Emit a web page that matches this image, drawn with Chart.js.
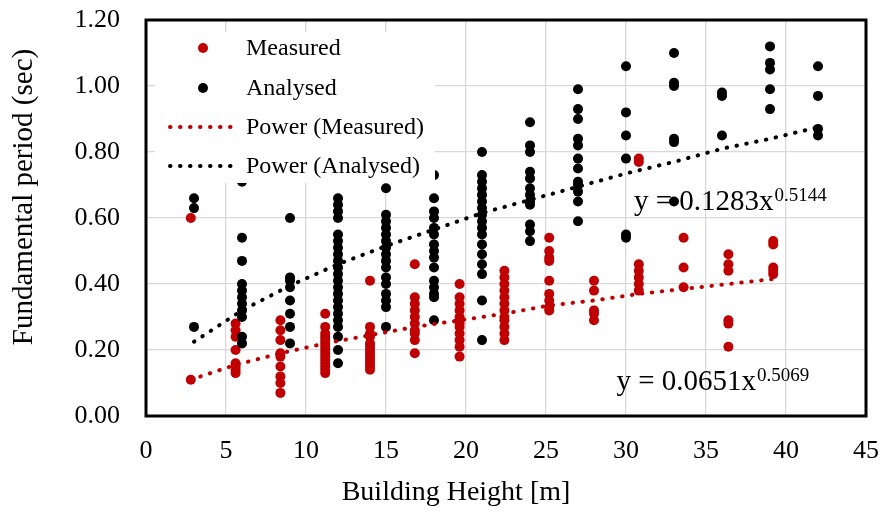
<!DOCTYPE html>
<html>
<head>
<meta charset="utf-8">
<script src="https://cdn.jsdelivr.net/npm/chart.js@4.4.1/dist/chart.umd.min.js"></script>
<style>
  body { margin: 0; background: #fff; }
  #wrap { width: 882px; height: 513px; }
</style>
</head>
<body>
<div id="wrap"><canvas id="periodChart" width="882" height="513"></canvas></div>
<script>
// building heights (m) and periods (sec)
const measuredHeights = [2.8, 5.6, 8.4, 11.2, 14, 16.8, 19.6, 22.4, 25.2, 28, 30.8, 33.6, 36.4, 39.2];
const measuredPeriods = [
    [0.60, 0.11],
    [0.28, 0.26, 0.24, 0.20, 0.16, 0.15, 0.14, 0.13],
    [0.29, 0.26, 0.23, 0.19, 0.18, 0.15, 0.12, 0.10, 0.07],
    [0.31, 0.27, 0.25, 0.24, 0.23, 0.22, 0.21, 0.20, 0.19, 0.18, 0.17, 0.16, 0.15, 0.14, 0.13],
    [0.41, 0.27, 0.25, 0.24, 0.22, 0.21, 0.20, 0.19, 0.18, 0.17, 0.16, 0.15, 0.14],
    [0.46, 0.36, 0.34, 0.32, 0.30, 0.28, 0.26, 0.25, 0.23, 0.19],
    [0.40, 0.36, 0.34, 0.32, 0.30, 0.29, 0.28, 0.27, 0.25, 0.23, 0.21, 0.18],
    [0.44, 0.42, 0.40, 0.38, 0.36, 0.34, 0.32, 0.30, 0.29, 0.27, 0.25, 0.23],
    [0.54, 0.50, 0.48, 0.47, 0.41, 0.37, 0.35, 0.33, 0.32],
    [0.41, 0.38, 0.32, 0.31, 0.29],
    [0.78, 0.77, 0.46, 0.44, 0.42, 0.40, 0.38],
    [0.54, 0.45, 0.39],
    [0.49, 0.46, 0.44, 0.29, 0.28, 0.21],
    [0.53, 0.52, 0.45, 0.44, 0.43]
];
const analysedHeights = [3, 6, 9, 12, 15, 18, 21, 24, 27, 30, 33, 36, 39, 42];
const analysedPeriods = [
    [0.66, 0.63, 0.27],
    [0.71, 0.54, 0.47, 0.40, 0.38, 0.36, 0.34, 0.32, 0.30, 0.24, 0.22],
    [0.60, 0.42, 0.41, 0.39, 0.35, 0.31, 0.27, 0.22],
    [0.66, 0.64, 0.62, 0.60, 0.55, 0.53, 0.51, 0.49, 0.47, 0.45, 0.43, 0.41, 0.39, 0.37, 0.35, 0.33, 0.31, 0.29, 0.27, 0.24, 0.20, 0.16],
    [0.69, 0.61, 0.59, 0.57, 0.55, 0.53, 0.51, 0.49, 0.47, 0.45, 0.42, 0.40, 0.37, 0.35, 0.33, 0.27],
    [0.73, 0.66, 0.62, 0.60, 0.57, 0.55, 0.52, 0.50, 0.48, 0.45, 0.41, 0.39, 0.37, 0.36, 0.29],
    [0.80, 0.73, 0.71, 0.69, 0.67, 0.65, 0.63, 0.61, 0.59, 0.57, 0.55, 0.52, 0.49, 0.46, 0.43, 0.35, 0.23],
    [0.89, 0.82, 0.80, 0.74, 0.72, 0.69, 0.67, 0.65, 0.64, 0.58, 0.56, 0.53],
    [0.99, 0.93, 0.90, 0.84, 0.82, 0.78, 0.75, 0.71, 0.70, 0.68, 0.65, 0.59],
    [1.06, 0.92, 0.85, 0.78, 0.55, 0.54],
    [1.10, 1.01, 1.00, 0.84, 0.83, 0.65],
    [0.98, 0.97, 0.85],
    [1.12, 1.07, 1.05, 0.99, 0.93],
    [1.06, 0.97, 0.87, 0.85]
];
// power trend lines, read at the same heights
const measuredTrend = [0.11, 0.155, 0.19, 0.22, 0.245, 0.27, 0.29, 0.31, 0.335, 0.35, 0.37, 0.385, 0.40, 0.415];
const analysedTrend = [0.225, 0.32, 0.395, 0.46, 0.515, 0.565, 0.615, 0.655, 0.695, 0.735, 0.77, 0.81, 0.84, 0.875];

const seriesLabels = ['Measured', 'Analysed', 'Power (Measured)', 'Power (Analysed)'];
const equations = [
    { base: 'y = 0.1283x', exp: '0.5144', x: 30.5, y: 0.624 },
    { base: 'y = 0.0651x', exp: '0.5069', x: 29.4, y: 0.079 }
];
const xTitle = 'Building Height [m]';
const yTitle = 'Fundamental period (sec)';

const RED = '#c00000';
const BLACK = '#000000';
const SERIF = "'Liberation Serif', 'Times New Roman', serif";

function toPoints(heights, groups) {
    let pts = [];
    heights.forEach((h, i) => {
        groups[i].forEach(v => pts.push({ x: h, y: v }));
    });
    return pts;
}

function trendPoints(heights, values) {
    return heights.map((h, i) => ({ x: h, y: values[i] }));
}

const dotDash = [0.5, 9.5];

// legend box, equations, frame and titles like the Excel original
const overlayPlugin = {
    id: 'overlay',
    afterDatasetsDraw(chart) {
        const { ctx, chartArea: a } = chart;
        const sx = chart.scales.x, sy = chart.scales.y;
        ctx.save();

        // white legend background
        ctx.fillStyle = '#fff';
        ctx.fillRect(a.left + 9, a.top + 12, 280, 151);

        ctx.font = '24px ' + SERIF;
        ctx.textBaseline = 'middle';
        ctx.textAlign = 'left';
        const rows = [a.top + 28, a.top + 68, a.top + 107, a.top + 146];
        chart.data.datasets.forEach((ds, i) => {
            const y = rows[i];
            if (ds.showLine) {
                ctx.strokeStyle = ds.borderColor;
                ctx.lineWidth = ds.borderWidth;
                ctx.lineCap = 'round';
                ctx.setLineDash(dotDash);
                ctx.beginPath();
                ctx.moveTo(a.left + 24, y);
                ctx.lineTo(a.left + 93, y);
                ctx.stroke();
                ctx.setLineDash([]);
            } else {
                ctx.fillStyle = ds.backgroundColor;
                ctx.beginPath();
                ctx.arc(a.left + 57, y, 5, 0, Math.PI * 2);
                ctx.fill();
            }
            ctx.fillStyle = '#000';
            ctx.fillText(ds.label, a.left + 100, y + 1);
        });

        // trend equations
        ctx.textBaseline = 'alphabetic';
        equations.forEach(eq => {
            const px = sx.getPixelForValue(eq.x);
            const py = sy.getPixelForValue(eq.y);
            ctx.font = '29px ' + SERIF;
            ctx.fillText(eq.base, px, py);
            const w = ctx.measureText(eq.base).width;
            ctx.font = '19px ' + SERIF;
            ctx.fillText(eq.exp, px + w + 1, py - 9);
        });
        ctx.restore();
    },
    afterDraw(chart) {
        const { ctx, chartArea: a } = chart;
        ctx.save();
        ctx.strokeStyle = '#000';
        ctx.lineWidth = 3;
        ctx.strokeRect(a.left, a.top, a.right - a.left, a.bottom - a.top);

        ctx.fillStyle = '#000';
        ctx.textAlign = 'center';
        ctx.textBaseline = 'middle';
        ctx.font = '28px ' + SERIF;
        ctx.fillText(xTitle, 456, 493);
        ctx.translate(24, 197);
        ctx.rotate(-Math.PI / 2);
        ctx.font = '29px ' + SERIF;
        ctx.fillText(yTitle, 0, 0);
        ctx.restore();
    }
};

Chart.defaults.color = '#000';
Chart.defaults.font.family = SERIF;

const ctx = document.getElementById('periodChart').getContext('2d');
const periodChart = new Chart(ctx, {
    type: 'scatter',
    data: {
        datasets: [
            {
                label: seriesLabels[0],
                data: toPoints(measuredHeights, measuredPeriods),
                backgroundColor: RED,
                borderWidth: 0,
                pointRadius: 5,
                order: 3
            },
            {
                label: seriesLabels[1],
                data: toPoints(analysedHeights, analysedPeriods),
                backgroundColor: BLACK,
                borderWidth: 0,
                pointRadius: 5,
                order: 2
            },
            {
                label: seriesLabels[2],
                data: trendPoints(measuredHeights, measuredTrend),
                showLine: true,
                borderColor: RED,
                borderWidth: 4,
                borderDash: dotDash,
                borderCapStyle: 'round',
                pointRadius: 0,
                fill: false,
                order: 1
            },
            {
                label: seriesLabels[3],
                data: trendPoints(analysedHeights, analysedTrend),
                showLine: true,
                borderColor: BLACK,
                borderWidth: 4,
                borderDash: dotDash,
                borderCapStyle: 'round',
                pointRadius: 0,
                fill: false,
                order: 0
            }
        ]
    },
    options: {
        responsive: false,
        animation: false,
        layout: { padding: { top: 20, right: 16, left: 0, bottom: 0 } },
        plugins: {
            legend: { display: false },
            tooltip: { enabled: false }
        },
        scales: {
            x: {
                type: 'linear',
                min: 0,
                max: 45,
                ticks: { stepSize: 5, padding: 20, font: { size: 26 } },
                grid: { color: '#d9d9d9', lineWidth: 1.3, drawTicks: false },
                border: { display: false },
                afterFit(scale) {
                    scale.height = 97;
                    scale.paddingLeft = 0;
                    scale.paddingRight = 0;
                }
            },
            y: {
                min: 0,
                max: 1.2,
                ticks: {
                    stepSize: 0.2,
                    padding: 26,
                    font: { size: 26 },
                    callback: v => v.toFixed(2)
                },
                grid: { color: '#d9d9d9', lineWidth: 1.3, drawTicks: false },
                border: { display: false },
                afterFit(scale) {
                    scale.width = 146;
                    scale.paddingTop = 0;
                    scale.paddingBottom = 0;
                }
            }
        }
    },
    plugins: [overlayPlugin]
});
</script>
</body>
</html>
